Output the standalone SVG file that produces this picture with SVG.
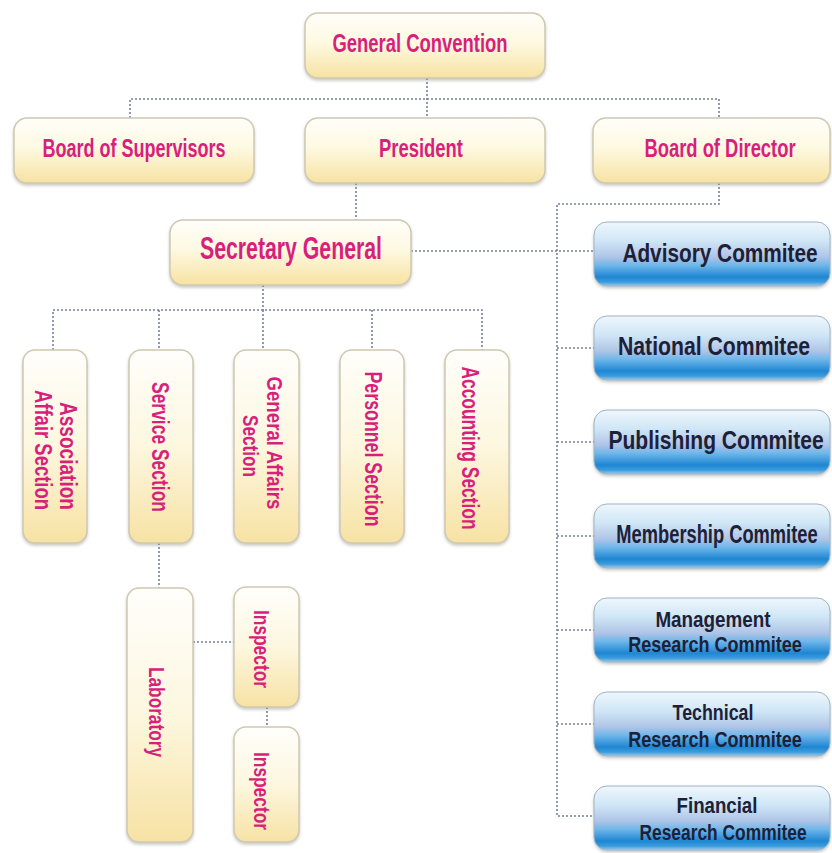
<svg xmlns="http://www.w3.org/2000/svg" width="832" height="853" viewBox="0 0 832 853">
<defs>
<linearGradient id="gy" x1="0" y1="0" x2="0" y2="1">
<stop offset="0" stop-color="#fffefa"/>
<stop offset="0.45" stop-color="#fef9e2"/>
<stop offset="1" stop-color="#f7e2a2"/>
</linearGradient>
<linearGradient id="gyv" x1="0" y1="0" x2="0" y2="1">
<stop offset="0" stop-color="#fffefb"/>
<stop offset="0.5" stop-color="#fdf7df"/>
<stop offset="1" stop-color="#f7e2a4"/>
</linearGradient>
<linearGradient id="gb" x1="0" y1="0" x2="0" y2="1">
<stop offset="0" stop-color="#eef7fc"/>
<stop offset="0.3" stop-color="#cfe6f6"/>
<stop offset="0.55" stop-color="#aec4e6"/>
<stop offset="0.68" stop-color="#6cb6ea"/>
<stop offset="0.86" stop-color="#1f86d2"/>
<stop offset="0.94" stop-color="#3d9ddc"/>
<stop offset="1" stop-color="#9ccbea"/>
</linearGradient>
<filter id="sh" x="-10%" y="-10%" width="120%" height="130%">
<feDropShadow dx="0" dy="2" stdDeviation="1.5" flood-color="#8a8a80" flood-opacity="0.45"/>
</filter>
</defs>
<style>
.y{fill:url(#gy);stroke:#cfc8b2;stroke-width:1.5;filter:url(#sh)}
.yv{fill:url(#gyv);stroke:#cfc8b2;stroke-width:1.5;filter:url(#sh)}
.b{fill:url(#gb);stroke:#9fb4c8;stroke-width:1;filter:url(#sh)}
.t{font-family:"Liberation Sans","DejaVu Sans",sans-serif;font-weight:bold;fill:#d81f7c;text-anchor:middle}
.c{font-family:"Liberation Sans","DejaVu Sans",sans-serif;font-weight:bold;fill:#1d2138;text-anchor:middle}
.ln{fill:none;stroke:#75809a;stroke-width:1.6;stroke-dasharray:2 2}
</style>
<rect width="832" height="853" fill="#ffffff"/>

<g id="connectors">
<path class="ln" d="M427 78V118"/>
<path class="ln" d="M130 118V99H719V118"/>
<path class="ln" d="M356 183V220"/>
<path class="ln" d="M719 183V204H557V816H594"/>
<path class="ln" d="M411 251H594"/>
<path class="ln" d="M557 348H594M557 442H594M557 536H594M557 630H594M557 724H594"/>
<path class="ln" d="M263 285V310"/>
<path class="ln" d="M53 350V310H482V350M159 310V350M263 310V350M372 310V350"/>
<path class="ln" d="M159 543V588"/>
<path class="ln" d="M193 642H234"/>
<path class="ln" d="M267 707V727"/>
</g>

<g id="general-convention">
<rect class="y" x="305" y="13" width="240" height="65" rx="13"/>
<text class="t" x="420" y="52" font-size="25" textLength="175" lengthAdjust="spacingAndGlyphs">General Convention</text>
</g>
<g id="board-of-supervisors">
<rect class="y" x="14" y="118" width="240" height="65" rx="13"/>
<text class="t" x="134" y="157" font-size="25" textLength="183" lengthAdjust="spacingAndGlyphs">Board of Supervisors</text>
</g>
<g id="president">
<rect class="y" x="305" y="118" width="240" height="65" rx="13"/>
<text class="t" x="421" y="157" font-size="25" textLength="84" lengthAdjust="spacingAndGlyphs">President</text>
</g>
<g id="board-of-director">
<rect class="y" x="593" y="118" width="237" height="65" rx="13"/>
<text class="t" transform="translate(720,157) scale(0.8,1)" x="0" y="0" font-size="25" textLength="189" lengthAdjust="spacingAndGlyphs">Board of Director</text>
</g>
<g id="secretary-general">
<rect class="y" x="170" y="220" width="241" height="65" rx="13"/>
<text class="t" x="291" y="259" font-size="31" textLength="182" lengthAdjust="spacingAndGlyphs">Secretary General</text>
</g>

<g id="association-affair-section">
<rect class="yv" x="23" y="350" width="64" height="193" rx="12"/>
<g transform="translate(56,0) rotate(90)">
<text class="t" x="456" y="-4" font-size="23" textLength="108" lengthAdjust="spacingAndGlyphs">Association</text>
<text class="t" x="450" y="21" font-size="23" textLength="120" lengthAdjust="spacingAndGlyphs">Affair Section</text>
</g>
</g>
<g id="service-section">
<rect class="yv" x="129" y="350" width="64" height="193" rx="12"/>
<g transform="translate(161,0) rotate(90)">
<text class="t" x="447" y="9" font-size="23" textLength="130" lengthAdjust="spacingAndGlyphs">Service Section</text>
</g>
</g>
<g id="general-affairs-section">
<rect class="yv" x="234" y="350" width="65" height="193" rx="12"/>
<g transform="translate(266,0) rotate(90)">
<text class="t" x="443" y="-1" font-size="22" textLength="133" lengthAdjust="spacingAndGlyphs">General Affairs</text>
<text class="t" x="446" y="23" font-size="22" textLength="62" lengthAdjust="spacingAndGlyphs">Section</text>
</g>
</g>
<g id="personnel-section">
<rect class="yv" x="340" y="350" width="64" height="193" rx="12"/>
<g transform="translate(373,0) rotate(90)">
<text class="t" x="449" y="8" font-size="23" textLength="155" lengthAdjust="spacingAndGlyphs">Personnel Section</text>
</g>
</g>
<g id="accounting-section">
<rect class="yv" x="445" y="350" width="64" height="193" rx="12"/>
<g transform="translate(472,0) rotate(90)">
<text class="t" x="448" y="10" font-size="23" textLength="163" lengthAdjust="spacingAndGlyphs">Accounting Section</text>
</g>
</g>

<g id="laboratory">
<rect class="yv" x="127" y="588" width="66" height="254" rx="12"/>
<g transform="translate(158,0) rotate(90)">
<text class="t" x="712" y="9" font-size="22" textLength="90" lengthAdjust="spacingAndGlyphs">Laboratory</text>
</g>
</g>
<g id="inspector-1">
<rect class="yv" x="234" y="587" width="65" height="120" rx="12"/>
<g transform="translate(263,0) rotate(90)">
<text class="t" x="649" y="9" font-size="22" textLength="78" lengthAdjust="spacingAndGlyphs">Inspector</text>
</g>
</g>
<g id="inspector-2">
<rect class="yv" x="234" y="727" width="65" height="115" rx="12"/>
<g transform="translate(263,0) rotate(90)">
<text class="t" x="791" y="9" font-size="22" textLength="78" lengthAdjust="spacingAndGlyphs">Inspector</text>
</g>
</g>

<g id="advisory-commitee">
<rect class="b" x="594" y="222" width="236" height="64" rx="13"/>
<text class="c" transform="translate(720,262) scale(0.8,1)" x="0" y="0" font-size="25" textLength="244" lengthAdjust="spacingAndGlyphs">Advisory Commitee</text>
</g>
<g id="national-commitee">
<rect class="b" x="594" y="316" width="236" height="64" rx="13"/>
<text class="c" transform="translate(714,355) scale(0.8,1)" x="0" y="0" font-size="25" textLength="240" lengthAdjust="spacingAndGlyphs">National Commitee</text>
</g>
<g id="publishing-commitee">
<rect class="b" x="594" y="410" width="236" height="64" rx="13"/>
<text class="c" transform="translate(716,449) scale(0.8,1)" x="0" y="0" font-size="25" textLength="269" lengthAdjust="spacingAndGlyphs">Publishing Commitee</text>
</g>
<g id="membership-commitee">
<rect class="b" x="594" y="504" width="236" height="64" rx="13"/>
<text class="c" transform="translate(717,543) scale(0.74,1)" x="0" y="0" font-size="25" textLength="272" lengthAdjust="spacingAndGlyphs">Membership Commitee</text>
</g>
<g id="management-research-commitee">
<rect class="b" x="594" y="598" width="236" height="64" rx="13"/>
<text class="c" transform="translate(713,627) scale(0.8,1)" x="0" y="0" font-size="22" textLength="144" lengthAdjust="spacingAndGlyphs">Management</text>
<text class="c" transform="translate(715,652) scale(0.8,1)" x="0" y="0" font-size="22" textLength="217" lengthAdjust="spacingAndGlyphs">Research Commitee</text>
</g>
<g id="technical-research-commitee">
<rect class="b" x="594" y="692" width="236" height="64" rx="13"/>
<text class="c" transform="translate(713,720) scale(0.8,1)" x="0" y="0" font-size="22" textLength="101" lengthAdjust="spacingAndGlyphs">Technical</text>
<text class="c" transform="translate(715,747) scale(0.8,1)" x="0" y="0" font-size="22" textLength="217" lengthAdjust="spacingAndGlyphs">Research Commitee</text>
</g>
<g id="financial-research-commitee">
<rect class="b" x="594" y="786" width="236" height="64" rx="13"/>
<text class="c" transform="translate(717,813) scale(0.8,1)" x="0" y="0" font-size="22" textLength="101" lengthAdjust="spacingAndGlyphs">Financial</text>
<text class="c" transform="translate(723,840) scale(0.8,1)" x="0" y="0" font-size="22" textLength="209" lengthAdjust="spacingAndGlyphs">Research Commitee</text>
</g>
</svg>
